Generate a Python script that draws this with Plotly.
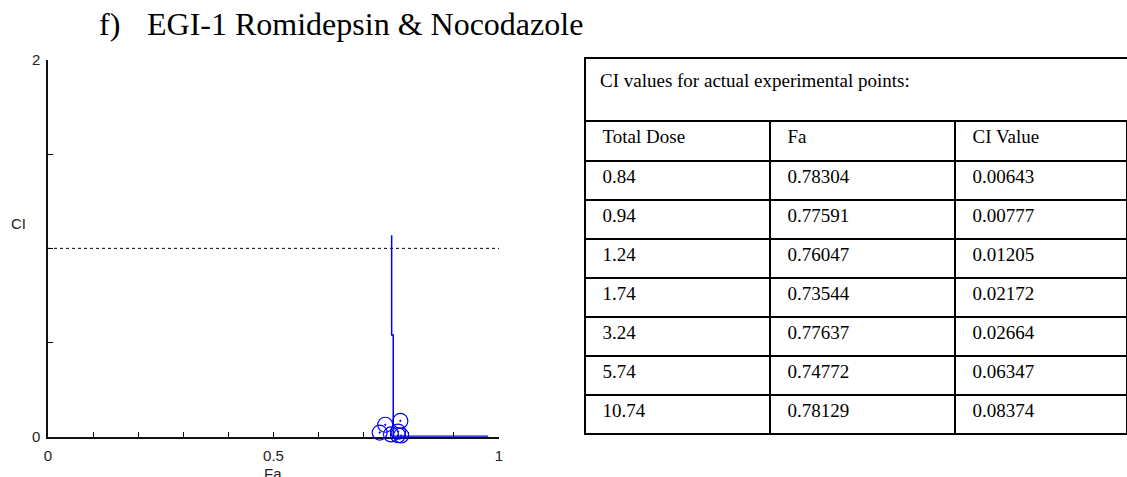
import plotly.graph_objects as go

W, H = 1127, 477

# experimental points (Fa, CI) - same as the table
total_dose = [0.84, 0.94, 1.24, 1.74, 3.24, 5.74, 10.74]
fa_points = [0.78304, 0.77591, 0.76047, 0.73544, 0.77637, 0.74772, 0.78129]
ci_points = [0.00643, 0.00777, 0.01205, 0.02172, 0.02664, 0.06347, 0.08374]

# simulated Fa-CI curve
fa_curve = [0.762, 0.762, 0.7655, 0.7655, 0.976]
ci_curve = [1.07, 0.54, 0.54, 0.003, 0.003]

# additive line CI = 1
fa_ref = [0, 1]
ci_ref = [1, 1]

x_tick_vals = [0, 0.1, 0.2, 0.3, 0.4, 0.5, 0.6, 0.7, 0.8, 0.9, 1]
x_tick_text = ['0', '', '', '', '', '0.5', '', '', '', '', '1']
y_tick_vals = [0, 0.5, 1, 1.5, 2]
y_tick_text = ['0', '', '', '', '2']

headers = ['Total Dose', 'Fa', 'CI Value']
table_title = 'CI values for actual experimental points:'

serif = 'Liberation Serif, Times New Roman, serif'
sans = 'Liberation Sans, Arial, sans-serif'
pad = '\u00a0\u00a0'

fig = go.Figure()

fig.add_trace(go.Scatter(
    x=fa_ref, y=ci_ref, mode='lines',
    line=dict(color='black', width=1, dash='dot'),
    showlegend=False
))

fig.add_trace(go.Scatter(
    x=fa_curve, y=ci_curve, mode='lines',
    line=dict(color='#0000ff', width=1.5),
    cliponaxis=False, showlegend=False
))

fig.add_trace(go.Scatter(
    x=fa_points, y=ci_points, mode='markers',
    marker=dict(symbol='circle-open-dot', size=15, color='#0000ff',
                line=dict(width=1.2, color='#0000ff')),
    cliponaxis=False, showlegend=False
))

# --- table ---
fig.add_trace(go.Table(
    domain=dict(x=[585 / W, 1], y=[0, 1 - 121 / H]),
    columnwidth=[185, 185, 172],
    header=dict(
        values=[pad + h for h in headers],
        align='left', height=40,
        line=dict(color='black', width=2),
        fill_color='white',
        font=dict(family=serif, size=19, color='black')
    ),
    cells=dict(
        values=[[pad + str(v) for v in total_dose],
                [pad + f'{v:.5f}' for v in fa_points],
                [pad + f'{v:.5f}' for v in ci_points]],
        align='left', height=39,
        line=dict(color='black', width=2),
        fill_color='white',
        font=dict(family=serif, size=19, color='black')
    )
))

# title row of the table
fig.add_shape(type='rect', xref='paper', yref='paper',
              x0=585 / W, x1=1.05, y0=1 - 121 / H, y1=1 - 58 / H,
              line=dict(color='black', width=2))

annotations = [
    dict(text=table_title, x=598 / W, y=1 - 81 / H, xanchor='left', yanchor='middle',
         font=dict(family=serif, size=19, color='black')),
    dict(text='f)', x=97 / W, y=1 - 24 / H, xanchor='left', yanchor='middle',
         font=dict(family=serif, size=32, color='black')),
    dict(text='EGI-1 Romidepsin &amp; Nocodazole', x=145 / W, y=1 - 24 / H,
         xanchor='left', yanchor='middle',
         font=dict(family=serif, size=32, color='black')),
    dict(text='CI', x=18 / W, y=1 - 223 / H, xanchor='center', yanchor='middle',
         font=dict(family=sans, size=15, color='#222')),
    dict(text='Fa', x=273 / W, y=1 - 463 / H, xanchor='center', yanchor='top',
         font=dict(family=sans, size=15, color='#222')),
]
for a in annotations:
    a.update(xref='paper', yref='paper', showarrow=False)

fig.update_layout(
    width=W, height=H,
    margin=dict(l=0, r=0, t=0, b=0),
    plot_bgcolor='white',
    paper_bgcolor='white',
    annotations=annotations,
    xaxis=dict(
        domain=[48 / W, 499 / W], range=[0, 1],
        tickvals=x_tick_vals, ticktext=x_tick_text,
        ticks='inside', ticklen=5, tickcolor='black', tickwidth=1,
        showline=True, linecolor='#111', linewidth=1.5,
        showgrid=False, zeroline=False, layer='below traces',
        tickfont=dict(family=sans, size=15, color='#222'),
        ticklabelstandoff=5, automargin=False
    ),
    yaxis=dict(
        domain=[1 - 436.7 / H, 1 - 60 / H], range=[0, 2],
        tickvals=y_tick_vals, ticktext=y_tick_text,
        ticks='inside', ticklen=5, tickcolor='black', tickwidth=1,
        showline=True, linecolor='#111', linewidth=1.5,
        showgrid=False, zeroline=False, layer='below traces',
        tickfont=dict(family=sans, size=15, color='#222'),
        ticklabelstandoff=3, automargin=False
    )
)

# drop the default page margin so the figure sits at the window's corner
fig.write_html('out.html', config={'displayModeBar': False},
               post_script="document.body.style.margin='0';")
